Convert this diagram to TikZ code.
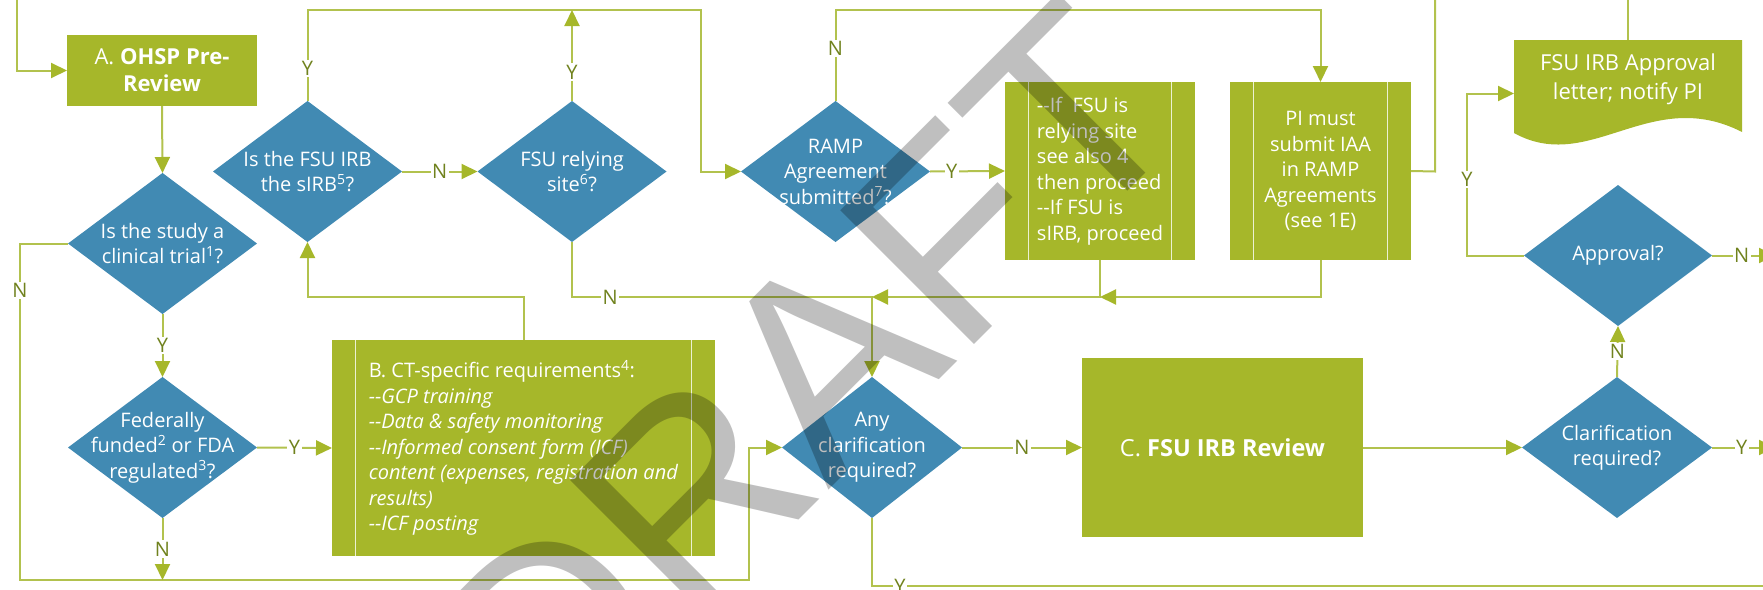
\documentclass[tikz,border=0pt]{standalone}
\usepackage{fontspec}
\setmainfont{Open Sans}
\newfontfamily\wmfont{Liberation Sans}
\usetikzlibrary{arrows.meta}
\definecolor{boxgreen}{RGB}{166,183,42}
\definecolor{dblue}{RGB}{65,138,179}
\definecolor{lngreen}{RGB}{178,194,78}
\definecolor{lblgreen}{RGB}{112,130,30}
\definecolor{sepline}{RGB}{236,241,210}
\begin{document}
\begin{tikzpicture}[x=1pt,y=-1pt,
  line/.style={draw=lngreen, line width=2pt},
  arr/.style={line, -{Triangle[length=16pt,width=15pt,color=boxgreen]}},
  lbl/.style={fill=white, inner sep=1.5pt, text=lblgreen, font=\fontsize{20}{24}\selectfont},
  box/.style={rectangle, fill=boxgreen, text=white, inner sep=0pt, outer sep=0pt, align=center, font=\fontsize{20}{25.5}\selectfont},
  predef/.style={box, path picture={\draw[sepline, line width=1.5pt]
      ([xshift=23.5pt]path picture bounding box.north west) -- ([xshift=23.5pt]path picture bounding box.south west)
      ([xshift=-23.5pt]path picture bounding box.north east) -- ([xshift=-23.5pt]path picture bounding box.south east);}},
  dia/.style={rectangle, inner sep=0pt, outer sep=0pt, minimum width=189pt, minimum height=141pt,
      align=center, text=white, font=\fontsize{20}{25.5}\selectfont,
      path picture={\fill[dblue] (path picture bounding box.north) -- (path picture bounding box.east)
        -- (path picture bounding box.south) -- (path picture bounding box.west) -- cycle;}},
  wm/.style={font=\wmfont\fontsize{275}{275}\selectfont, text=black, text opacity=0.25, inner sep=0pt, rotate=45, anchor=base}
]
\useasboundingbox (0,0) rectangle (1763,589);
\clip (0,0) rectangle (1763,589);

% ---------- nodes ----------
\node[box, minimum width=190pt, minimum height=71pt, font=\fontsize{22}{27}\selectfont] (A) at (162,70.5) {A. \textbf{OHSP Pre-}\\\textbf{Review}};
\node[dia] (clin) at (162.5,243.5) {Is the study a\\clinical trial\textsuperscript{1}?};
\node[dia] (fed) at (162.5,447.5) {Federally\\funded\textsuperscript{2} or FDA\\regulated\textsuperscript{3}?};
\node[dia] (sirb) at (307.5,171.5) {Is the FSU IRB\\the sIRB\textsuperscript{5}?};
\node[dia] (rely) at (572,171.5) {FSU relying\\site\textsuperscript{6}?};
\node[dia] (ramp) at (835.5,171.5) {RAMP\\Agreement\\submitted\textsuperscript{7}?};
\node[dia, minimum width=180pt] (any) at (872,447.5) {Any\\clarification\\required?};
\node[dia, minimum width=190pt] (clar) at (1617,447.5) {Clarification\\required?};
\node[dia, minimum width=188pt] (appr) at (1618,255.5) {Approval?};

\node[predef, minimum width=383pt, minimum height=216pt, align=left] (B) at (523.5,448)
  {B. CT-specific requirements\textsuperscript{4}:\\
   \textit{-{}-GCP training}\\
   \textit{-{}-Data \& safety monitoring}\\
   \textit{-{}-Informed consent form (ICF)}\\
   \textit{content (expenses, registration and}\\
   \textit{results)}\\
   \textit{-{}-ICF posting}};
\node[predef, minimum width=190pt, minimum height=178pt, align=left] (iffsu) at (1100,171)
  {-{}-If~ FSU is\\relying site\\see also 4\\then proceed\\-{}-If FSU is\\sIRB, proceed};
\node[predef, minimum width=181pt, minimum height=178pt] (pi) at (1320.5,171)
  {PI must\\submit IAA\\in RAMP\\Agreements\\(see 1E)};
\node[box, minimum width=281pt, minimum height=179pt, font=\fontsize{23.5}{28}\selectfont] (C) at (1222.5,447.5) {C. \textbf{FSU IRB Review}};

\fill[boxgreen] (1514,40) -- (1742,40) -- (1742,132) .. controls (1650,85) and (1590,175) .. (1514,133) -- cycle;
\node[minimum width=228pt, minimum height=107pt, inner sep=0pt, outer sep=0pt] (doc) at (1628,93.5) {};
\node[box, font=\fontsize{22}{29}\selectfont] (doctext) at (1628,79) {FSU IRB Approval\\letter; notify PI};

% ---------- waypoints ----------
\coordinate (e0) at (17,-5);
\coordinate (e1) at (17,70.5);
\coordinate (k1) at (20,243.5);
\coordinate (k2) at (20,580);
\coordinate (k3) at (749,580);
\coordinate (k4) at (749,447.5);
\coordinate (f1) at (162.5,580);
\coordinate (b1) at (523.5,297);
\coordinate (b2) at (307.5,297);
\coordinate (t1) at (307.5,10);
\coordinate (t2) at (701,10);
\coordinate (t3) at (701,171.5);
\coordinate (r1) at (572,10);
\coordinate (r2) at (572,297);
\coordinate (j1) at (872,297);
\coordinate (m1) at (835.5,10);
\coordinate (m2) at (1320.5,10);
\coordinate (j2) at (1100,297);
\coordinate (p1) at (1320.5,297);
\coordinate (p2) at (1435,171.5);
\coordinate (p3) at (1435,-5);
\coordinate (a1) at (872,586);
\coordinate (a2) at (1775,586);
\coordinate (c1) at (1775,447.5);
\coordinate (v1) at (1775,255.5);
\coordinate (y1) at (1467,255.5);
\coordinate (y2) at (1467,93.5);
\coordinate (d1) at (1628,-5);

% ---------- connectors ----------
\draw[arr] (e0) -- (e1) -- (A.west);
\draw[arr] (A.south) -- (clin.north);
\draw[arr] (clin.south) -- node[lbl] (lY1) {Y} (fed.north);
\draw[arr] (clin.west) -- (k1) -- node[lbl,pos=.14] (lN1) {N} (k2) -- (k3) -- (k4) -- (any.west);
\draw[arr] (fed.south) -- node[lbl] (lN2) {N} (f1);
\draw[arr] (fed.east) -- node[lbl] (lY2) {Y} (B.west);
\draw[arr] (B.north) -- (b1) -- (b2) -- (sirb.south);
\draw[arr] (sirb.north) -- node[lbl,pos=.36] (lY3) {Y} (t1) -- (t2) -- (t3) -- (ramp.west);
\draw[arr] (sirb.east) -- node[lbl] (lN3) {N} (rely.west);
\draw[arr] (rely.north) -- node[lbl,pos=.32] (lY4) {Y} (r1);
\draw[arr] (rely.south) -- (r2) -- node[lbl,pos=.127] (lN4) {N} (j1) -- (any.north);
\draw[arr] (ramp.north) -- node[lbl,pos=.58] (lN5) {N} (m1) -- (m2) -- (pi.north);
\draw[arr] (ramp.east) -- node[lbl,pos=.29] (lY5) {Y} (iffsu.west);
\draw[arr] (iffsu.south) -- (j2) -- (j1);
\draw[arr] (pi.south) -- (p1) -- (j2);
\draw[line] (pi.east) -- (p2) -- (p3);
\draw[arr] (any.east) -- node[lbl] (lN6) {N} (C.west);
\draw[line] (any.south) -- (a1) -- node[lbl,pos=.031] (lY6) {Y} (a2);
\draw[arr] (C.east) -- (clar.west);
\draw[arr] (clar.north) -- node[lbl] (lN7) {N} (appr.south);
\draw[arr] (clar.east) -- node[lbl,pos=.47] (lY7) {Y} (c1);
\draw[arr] (appr.west) -- (y1) -- node[lbl,pos=.47] (lY8) {Y} (y2) -- (doc.west);
\draw[arr] (appr.east) -- node[lbl,pos=.47] (lN8) {N} (v1);
\draw[line] (doc.north) -- (d1);

% ---------- watermark ----------
\node[wm] (draft) at (872,447) {DRAFT};
\end{tikzpicture}
\end{document}
